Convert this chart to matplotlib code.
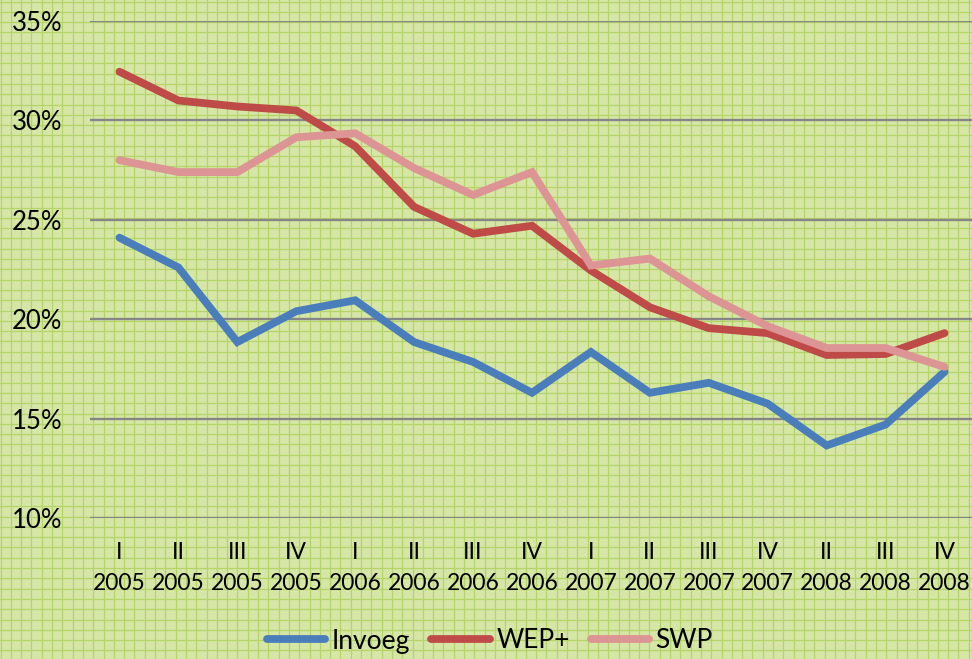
import matplotlib
matplotlib.use("Agg")
import matplotlib.pyplot as plt
import numpy as np

quarters = ["I", "II", "III", "IV", "I", "II", "III", "IV", "I", "II", "III", "IV", "II", "III", "IV"]
years = ["2005", "2005", "2005", "2005", "2006", "2006", "2006", "2006",
         "2007", "2007", "2007", "2007", "2008", "2008", "2008"]
invoeg = [24.1, 22.6, 18.85, 20.4, 20.95, 18.85, 17.85, 16.3, 18.35, 16.3, 16.8, 15.75, 13.65, 14.7, 17.35]
wep = [32.45, 31.0, 30.7, 30.5, 28.7, 25.65, 24.3, 24.7, 22.45, 20.6, 19.55, 19.3, 18.2, 18.25, 19.3]
swp = [28.0, 27.4, 27.4, 29.15, 29.35, 27.6, 26.25, 27.4, 22.7, 23.05, 21.15, 19.65, 18.55, 18.55, 17.6]
series_names = ["Invoeg", "WEP+", "SWP"]
yticks = [10, 15, 20, 25, 30, 35]

plt.rcParams['font.family'] = ['Lato', 'DejaVu Sans']

W, H = 972, 659
fig = plt.figure(figsize=(W / 100, H / 100), dpi=100)
fig.patch.set_facecolor("#d6e6a6")

# background pattern
bg = fig.add_axes([0, 0, 1, 1], zorder=0)
bg.set_xlim(0, W)
bg.set_ylim(H, 0)
bg.axis("off")
step = 10.3
for xx in np.arange(0.5, W, step):
    bg.axvline(xx, color="#b5d468", lw=0.9)
for yy in np.arange(1.5, H, step):
    bg.axhline(yy, color="#b5d468", lw=0.9)

ax = fig.add_axes([90 / W, 1 - 518 / H, 884 / W, (518 - 21) / H], zorder=1)
ax.patch.set_alpha(0)
x = np.arange(len(quarters))
colors = ["#4a7ebb", "#be4b48", "#dd9494"]
for vals, name, c in zip([invoeg, wep, swp], series_names, colors):
    ax.plot(x, vals, color=c, lw=5.6, label=name, solid_capstyle="round", solid_joinstyle="miter", zorder=3)

ax.set_xlim(-0.5, len(quarters) - 0.5)
ax.set_ylim(10, 35)
ax.set_yticks(yticks)
ax.set_yticklabels([f"{t}%" for t in yticks], fontsize=18.5)
for t in yticks:
    ax.axhline(t, color="#868686", lw=1.7, zorder=2)
ax.set_xticks(x)
ax.set_xticklabels([f"{q}\n{y}" for q, y in zip(quarters, years)], fontsize=16.5, linespacing=1.6)
ax.tick_params(axis="both", length=0)
ax.tick_params(axis="y", pad=20)
ax.tick_params(axis="x", pad=17)
for s in ax.spines.values():
    s.set_visible(False)

fig.legend(loc="center", bbox_to_anchor=(490 / W, 1 - 641 / H), ncol=3, frameon=False,
           fontsize=19, handlelength=2.2, columnspacing=0.8, handletextpad=0.25)

fig.savefig("out.png", dpi=100, facecolor=fig.get_facecolor())
